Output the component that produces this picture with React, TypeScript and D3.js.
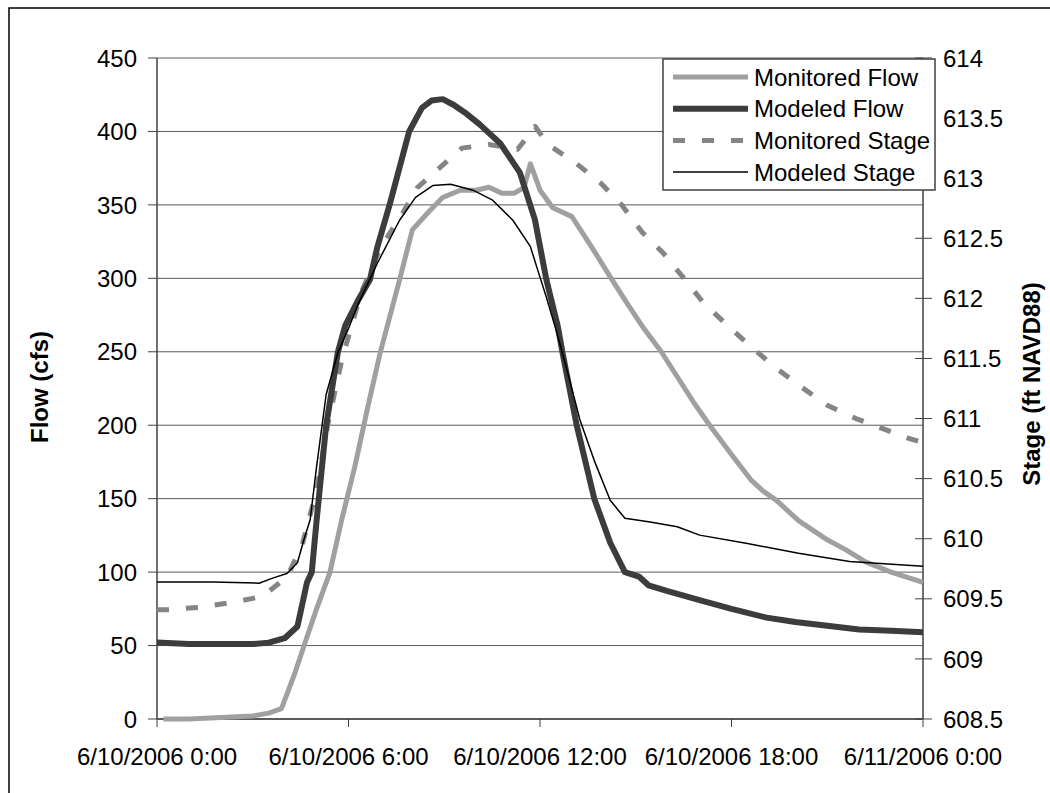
import React from "react";
import * as d3 from "d3";

const xTickLabels = ["6/10/2006 0:00", "6/10/2006 6:00", "6/10/2006 12:00", "6/10/2006 18:00", "6/11/2006 0:00"];
const xTickHours = [0, 6, 12, 18, 24];
const flowTicks = [0, 50, 100, 150, 200, 250, 300, 350, 400, 450];
const stageTicks = [608.5, 609, 609.5, 610, 610.5, 611, 611.5, 612, 612.5, 613, 613.5, 614];

// Monitored Flow (cfs)
const monFlowHours = [0.2, 1, 2, 3, 3.5, 3.9, 4.3, 4.67, 5.0, 5.42, 5.78, 6.2, 6.6, 7.0, 7.6, 8.0, 8.5, 8.95, 9.5, 10.0, 10.4, 10.8, 11.2, 11.5, 11.7, 12.0, 12.4, 13.0, 13.6, 14.2, 14.7, 15.25, 15.8, 16.3, 16.8, 17.35, 18.0, 18.6, 19.0, 19.4, 20.1, 21.0, 21.6, 22.2, 23.0, 24.0];
const monFlowVals = [0, 0, 1, 2, 4, 7, 30, 54, 75, 100, 135, 172, 212, 250, 299, 333, 345, 355, 360, 360, 362, 358, 358, 362, 378, 360, 348, 342, 322, 301, 284, 266, 250, 233, 216, 199, 180, 163, 155, 149, 135, 122, 115, 107, 100, 93];

// Modeled Flow (cfs)
const modFlowHours = [0, 1, 2, 3, 3.5, 4.0, 4.4, 4.7, 4.85, 5.0, 5.3, 5.67, 5.9, 6.3, 6.67, 6.9, 7.3, 7.9, 8.3, 8.6, 8.95, 9.3, 9.7, 10.1, 10.75, 11.37, 11.84, 12.2, 12.56, 12.7, 13.15, 13.7, 14.2, 14.66, 15.1, 15.4, 16.0, 17.0, 18.0, 19.1, 20.0, 21.2, 22.0, 23.0, 24.0];
const modFlowVals = [52, 51, 51, 51, 52, 55, 63, 93, 100, 135, 200, 250, 268, 285, 299, 321, 351, 400, 416, 421, 422, 418, 412, 405, 392, 372, 340, 299, 267, 250, 200, 150, 120, 100, 97, 91, 87, 81, 75, 69, 66, 63, 61, 60, 59];

// Monitored Stage (ft NAVD88)
const monStageHours = [0, 0.4, 1.35, 2.35, 3.3, 4.07, 4.55, 5.0, 5.35, 5.8, 6.4, 7.0, 7.7, 8.15, 8.87, 9.55, 10.4, 11.3, 11.85, 12.25, 13.1, 13.9, 14.55, 15.2, 15.85, 16.5, 17.1, 17.85, 18.6, 19.35, 20.2, 21.0, 21.9, 22.7, 23.5, 24.0];
const monStageVals = [609.41, 609.41, 609.43, 609.47, 609.52, 609.68, 609.95, 610.4, 610.95, 611.5, 612.05, 612.42, 612.71, 612.92, 613.09, 613.25, 613.28, 613.24, 613.43, 613.28, 613.13, 612.96, 612.78, 612.55, 612.38, 612.17, 611.97, 611.78, 611.6, 611.43, 611.26, 611.11, 611.0, 610.92, 610.84, 610.8];

// Modeled Stage (ft NAVD88)
const modStageHours = [0, 1.75, 3.2, 3.6, 4.07, 4.4, 4.6, 4.8, 5.0, 5.3, 5.67, 6.0, 6.3, 6.9, 7.6, 8.1, 8.65, 9.2, 9.9, 10.5, 11.15, 11.7, 11.9, 12.2, 12.5, 12.8, 13.25, 13.7, 14.2, 14.66, 15.45, 16.3, 17.0, 18.5, 20.1, 21.7, 24.0];
const modStageVals = [609.64, 609.64, 609.63, 609.67, 609.71, 609.8, 609.99, 610.16, 610.6, 611.2, 611.55, 611.75, 611.95, 612.29, 612.65, 612.84, 612.94, 612.95, 612.9, 612.82, 612.65, 612.43, 612.26, 612.01, 611.74, 611.45, 610.99, 610.65, 610.32, 610.17, 610.14, 610.1, 610.03, 609.96, 609.88, 609.81, 609.77];

const legendLabels = ["Monitored Flow", "Modeled Flow", "Monitored Stage", "Modeled Stage"];

const FONT = "'Liberation Sans', Arial, sans-serif";

export default function App() {
  const left = 157, right = 923, top = 58, bottom = 719;
  const x = d3.scaleLinear().domain([0, 24]).range([left, right]);
  const yF = d3.scaleLinear().domain([0, 450]).range([bottom, top]);
  const yS = d3.scaleLinear().domain([608.5, 614]).range([bottom, top]);

  const lineF = (hs: number[], vs: number[]) =>
    d3.line<number>().x((_, i) => x(hs[i])).y((v) => yF(v))(vs) || "";
  const lineS = (hs: number[], vs: number[]) =>
    d3.line<number>().x((_, i) => x(hs[i])).y((v) => yS(v))(vs) || "";

  const styles = [
    { stroke: "#a0a0a0", width: 5, dash: "" },
    { stroke: "#3c3c3c", width: 6, dash: "" },
    { stroke: "#858585", width: 5, dash: "12 17" },
    { stroke: "#000000", width: 1.5, dash: "" },
  ];

  const legX = 663, legY = 59, legW = 272, legH = 131;

  return (
    <svg width={1050} height={793} style={{ display: "block", position: "absolute", left: 0, top: 0 }} fontFamily={FONT}>
      <rect x={0} y={0} width={1050} height={793} fill="#fff" />
      <rect x={9} y={8} width={1100} height={900} fill="none" stroke="#000" strokeWidth={1.5} />

      {flowTicks.map((t) => (
        <line key={"g" + t} x1={left} x2={right} y1={yF(t)} y2={yF(t)} stroke="#5a5a5a" strokeWidth={1} />
      ))}

      {/* axes */}
      <line x1={left} x2={left} y1={top} y2={bottom} stroke="#404040" strokeWidth={1.5} />
      <line x1={right} x2={right} y1={top} y2={bottom} stroke="#404040" strokeWidth={1.5} />
      <line x1={left} x2={right} y1={bottom} y2={bottom} stroke="#404040" strokeWidth={1.5} />

      {flowTicks.map((t) => (
        <g key={"lt" + t}>
          <line x1={left - 9} x2={left} y1={yF(t)} y2={yF(t)} stroke="#404040" strokeWidth={1} />
          <text x={137} y={yF(t)} dy="0.36em" textAnchor="end" fontSize={24} fill="#000">{t}</text>
        </g>
      ))}
      {stageTicks.map((t) => (
        <g key={"rt" + t}>
          <line x1={right - 8} x2={right + 9} y1={yS(t)} y2={yS(t)} stroke="#404040" strokeWidth={1} />
          <text x={943} y={yS(t)} dy="0.36em" textAnchor="start" fontSize={24} fill="#000">{t}</text>
        </g>
      ))}
      {xTickHours.map((h, i) => (
        <g key={"xt" + h}>
          <line x1={x(h)} x2={x(h)} y1={bottom} y2={bottom + 8} stroke="#404040" strokeWidth={1} />
          <text x={x(h)} y={765} textAnchor="middle" fontSize={24} fill="#000">{xTickLabels[i]}</text>
        </g>
      ))}

      <text transform={`translate(48,387) rotate(-90)`} textAnchor="middle" fontSize={24} fontWeight="bold">Flow (cfs)</text>
      <text transform={`translate(1040,384) rotate(-90)`} textAnchor="middle" fontSize={24} fontWeight="bold">Stage (ft NAVD88)</text>

      <g fill="none" strokeLinejoin="round">
        <path d={lineF(monFlowHours, monFlowVals)} stroke={styles[0].stroke} strokeWidth={styles[0].width} />
        <path d={lineS(monStageHours, monStageVals)} stroke={styles[2].stroke} strokeWidth={styles[2].width} strokeDasharray={styles[2].dash} />
        <path d={lineF(modFlowHours, modFlowVals)} stroke={styles[1].stroke} strokeWidth={styles[1].width} />
        <path d={lineS(modStageHours, modStageVals)} stroke={styles[3].stroke} strokeWidth={styles[3].width} />
      </g>

      <rect x={legX} y={legY} width={legW} height={legH} fill="#fff" stroke="#404040" strokeWidth={1.5} />
      {legendLabels.map((lab, i) => {
        const cy = 77 + i * 31.7;
        const s = styles[i];
        return (
          <g key={lab}>
            <line x1={673} x2={748} y1={cy} y2={cy} stroke={s.stroke} strokeWidth={s.width} strokeDasharray={s.dash} />
            <text x={754} y={cy} dy="0.36em" fontSize={24} fill="#000">{lab}</text>
          </g>
        );
      })}
    </svg>
  );
}
